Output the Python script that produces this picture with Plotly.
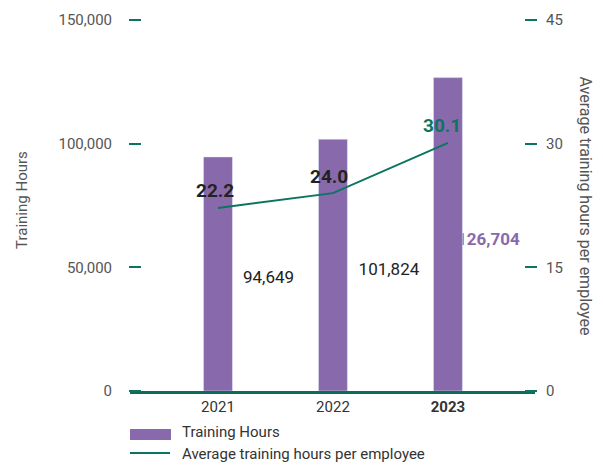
import plotly.graph_objects as go

years = ["2021", "2022", "2023"]
training_hours = [94649, 101824, 126704]
avg_hours = [22.2, 24.0, 30.1]
left_ticks = [0, 50000, 100000, 150000]
right_ticks = [0, 15, 30, 45]

PURPLE = "#886AAC"
TEAL = "#0B755F"
GRAY = "#555555"
DARK = "#222222"
FONT = "Roboto"

xs = list(range(len(years)))
TICKPOS = 11 / 405  # inside tick length as fraction of plot width

fig = go.Figure()

# bar value labels (base layer, drawn below bars)
lab_dx = [0.44, 0.487, 0.352]
bar_text = [f"{v:,}" for v in training_hours]
bar_text[-1] = f"<b>{bar_text[-1]}</b>"
fig.add_trace(go.Scatter(
    x=[x + d for x, d in zip(xs, lab_dx)],
    y=[v * 0.479 for v in training_hours],
    mode="text", text=bar_text, textposition="middle center",
    textfont=dict(family=FONT, size=17, color=[DARK, DARK, PURPLE]),
    yaxis="y", showlegend=False, hoverinfo="skip"))

fig.add_trace(go.Bar(
    x=xs, y=training_hours, width=0.252, marker_color=PURPLE,
    name="Training Hours", yaxis="y2", showlegend=False))

fig.add_trace(go.Scatter(
    x=xs, y=avg_hours, mode="lines",
    line=dict(color=TEAL, width=2),
    name="Average training hours per employee", yaxis="y3", showlegend=False))

fig.update_layout(
    width=595, height=457,
    margin=dict(l=122, r=68, t=12, b=74, autoexpand=False),
    paper_bgcolor="white", plot_bgcolor="white",
    font=dict(family=FONT, size=14, color=GRAY),
    xaxis=dict(range=[-0.765, 2.757], tickvals=xs, automargin=False,
               ticktext=["2021", "2022", "<b>2023</b>"],
               tickfont=dict(size=15, color="#333333"),
               showgrid=False, zeroline=False, showline=True,
               linecolor="#0A6E59", linewidth=3, ticks=""),
    yaxis=dict(range=[0, 150000], visible=False, showgrid=False, automargin=False),
    yaxis2=dict(range=[0, 150000], overlaying="y", side="left",
                anchor="free", position=TICKPOS, automargin=False,
                tickvals=left_ticks, tickformat=",", showgrid=False,
                zeroline=False, showline=False, ticks="outside", ticklen=12,
                tickwidth=1.5, tickcolor=TEAL, ticklabelstandoff=14,
                tickfont=dict(size=15, color=GRAY)),
    yaxis3=dict(range=[0, 45], overlaying="y", side="right",
                anchor="free", position=1 - TICKPOS, automargin=False,
                tickvals=right_ticks, showgrid=False, zeroline=False,
                showline=False, ticks="outside", ticklen=12, tickwidth=1.5,
                tickcolor=TEAL, ticklabelstandoff=6,
                tickfont=dict(size=15, color=GRAY)),
    showlegend=False,
)

# line value labels
lab_xshift = [-3, -4, -6]
lab_colors = [DARK, DARK, TEAL]
for x, v, dx, c in zip(xs, avg_hours, lab_xshift, lab_colors):
    fig.add_annotation(x=x, y=v, xref="x", yref="y3", text=f"<b>{v:.1f}</b>",
                       showarrow=False, xshift=dx, yshift=17,
                       xanchor="center", yanchor="middle",
                       font=dict(family=FONT, size=19, color=c))

fig.add_annotation(text="Training Hours", xref="paper", yref="paper",
                   x=-0.2667, y=0.515, textangle=-90, showarrow=False,
                   xanchor="center", yanchor="middle",
                   font=dict(family=FONT, size=15, color=GRAY))
fig.add_annotation(text="Average training hours per employee", xref="paper", yref="paper",
                   x=1.1235, y=0.5, textangle=90, showarrow=False,
                   xanchor="center", yanchor="middle",
                   font=dict(family=FONT, size=16, color=GRAY))

# manual legend
fig.add_shape(type="rect", xref="paper", yref="paper",
              x0=0, x1=0.1012, y0=-0.1321, y1=-0.1024,
              fillcolor=PURPLE, line=dict(width=0))
fig.add_shape(type="line", xref="paper", yref="paper",
              x0=0, x1=0.0988, y0=-0.1671, y1=-0.1671,
              line=dict(color=TEAL, width=2))
fig.add_annotation(text="Training Hours", xref="paper", yref="paper",
                   x=0.1235, y=-0.1105, xanchor="left", yanchor="middle",
                   showarrow=False, font=dict(family=FONT, size=15, color="#333333"))
fig.add_annotation(text="Average training hours per employee", xref="paper", yref="paper",
                   x=0.1235, y=-0.1698, xanchor="left", yanchor="middle",
                   showarrow=False, font=dict(family=FONT, size=15, color="#333333"))

fig.write_html("out.html")
